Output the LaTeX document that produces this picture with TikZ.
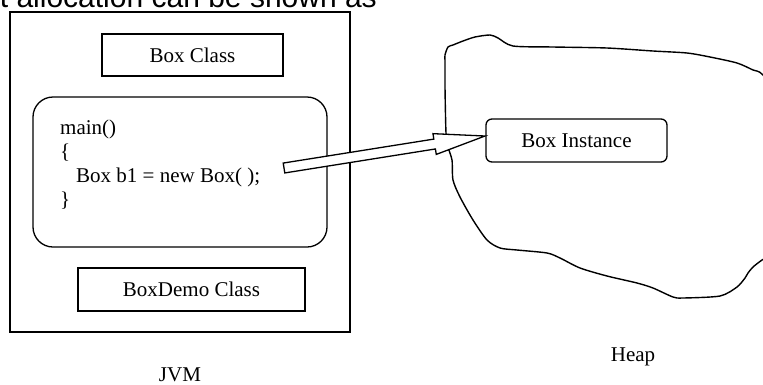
\documentclass[tikz,border=0pt]{standalone}
\usepackage{fontspec}
\setmainfont{Liberation Serif}
\newfontfamily\arialfont{Liberation Sans}
\usetikzlibrary{calc}
\begin{document}
\begin{tikzpicture}[x=1pt,y=-1pt,
  lbl/.style={font=\fontsize{21}{24}\selectfont, inner sep=0pt},
  sqbox/.style={draw, line width=1.3pt, inner sep=0pt, font=\fontsize{21}{24}\selectfont},
  rbox/.style={sqbox, rounded corners=#1},
  blockarrow/.style={draw, line width=1.3pt, fill=white, line join=miter}]
\useasboundingbox (0,0) rectangle (763,384);
% cut-off heading
\begin{scope}
\clip (0,0) rectangle (763,384);
\node[anchor=base east, inner sep=0pt, font=\arialfont\fontsize{30}{34}\selectfont] (heading) at (377,7.5) {t allocation can be shown as};
% heap blob
\draw[line width=1.4pt, line join=round] plot[smooth cycle, tension=0.45] coordinates {
 (445,55) (448,47) (453,45) (463,41) (475,37) (490,35) (498,38) (513,46)
 (553,47) (607,48) (653,51) (687,53) (710,57) (737,63) (753,70) (763,75)
 (790,110) (800,170) (790,240) (762,260) (753,267) (748,273) (745,278)
 (737,287) (720,296) (683,298) (673,297) (653,288) (637,283) (607,276)
 (580,268) (560,258) (547,253) (517,250) (500,248) (487,240) (473,220)
 (460,197) (453,180) (452,160) (448,147) (446,133) (445,87) (445,62)};
\end{scope}
% JVM
\node[sqbox, minimum width=340pt, minimum height=320pt] (jvm) at (180,172) {};
\node[sqbox, minimum width=181pt, minimum height=42pt] (boxclass) at (192.5,55) {Box Class};
\node[rbox=20pt, minimum width=294pt, minimum height=150pt] (mainbox) at (180,172) {};
\node[lbl, anchor=north west, align=left] (code) at (60,120)
  {main()\\\{\\\hspace{16pt}Box b1 = new Box( );\\\}};
\node[sqbox, minimum width=227pt, minimum height=43pt] (demo) at (191.5,289.5) {BoxDemo Class};
\node[lbl, anchor=base] (jvmlbl) at (180,381) {JVM};
% heap
\node[rbox=6pt, minimum width=181pt, minimum height=43pt] (inst) at (576.5,140.5) {Box Instance};
\node[lbl, anchor=base] (heaplbl) at (633,361) {Heap};
% block arrow
\coordinate (tail) at (284,168);
\coordinate (tip) at (485,136);
\path let \p1=($(tip)-(tail)$), \n1={atan2(\y1,\x1)}, \n2={veclen(\x1,\y1)} in
  [blockarrow, shift={(tail)}, rotate=\n1]
  (0,-5) -- (\n2-51,-5) -- (\n2-51,-10.5) -- (\n2,0) -- (\n2-51,10.5) -- (\n2-51,5) -- (0,5) -- cycle;
\end{tikzpicture}
\end{document}
